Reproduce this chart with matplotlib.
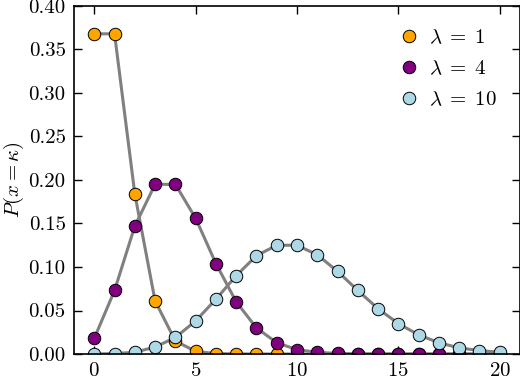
import matplotlib
matplotlib.use("Agg")
import matplotlib.pyplot as plt

plt.rcParams['font.family'] = 'serif'
plt.rcParams['font.serif'] = ['cmr10']
plt.rcParams['mathtext.fontset'] = 'cm'
plt.rcParams['axes.formatter.use_mathtext'] = True

k = list(range(21))

# P(x = k)
p_lam1 = [0.368, 0.368, 0.184, 0.061, 0.015, 0.003, 0.0005, 0.0001, 0.0, 0.0,
          0.0, 0.0, 0.0, 0.0, 0.0, 0.0, 0.0, 0.0, 0.0, 0.0, 0.0]
p_lam4 = [0.018, 0.073, 0.147, 0.195, 0.195, 0.156, 0.104, 0.060, 0.030, 0.013,
          0.005, 0.002, 0.0006, 0.0002, 0.0001, 0.0, 0.0, 0.0, 0.0, 0.0, 0.0]
p_lam10 = [0.0, 0.0005, 0.002, 0.008, 0.019, 0.038, 0.063, 0.090, 0.113, 0.125,
           0.125, 0.114, 0.095, 0.073, 0.052, 0.035, 0.022, 0.013, 0.007, 0.004, 0.002]

series = [(p_lam1, 'orange', r'$\lambda\;=\;1$'),
          (p_lam4, 'purple', r'$\lambda\;=\;4$'),
          (p_lam10, 'lightblue', r'$\lambda\;=\;10$')]

fig = plt.figure(figsize=(5.2, 3.88), dpi=100)
ax = fig.add_axes([0.1423, 0.0876, 0.8577, 0.897])

for p, color, label in series:
    ax.plot(k, p, '-', color='grey', lw=2.2, zorder=1)
    ax.plot(k, p, 'o', color=color, mec='black', mew=0.7, ms=9,
            label=label, zorder=2)

ax.set_xlim(-1, 21)
ax.set_ylim(0, 0.4)
ax.set_xticks([0, 5, 10, 15, 20])
ax.set_yticks([0.0, 0.05, 0.1, 0.15, 0.2, 0.25, 0.3, 0.35, 0.4])
ax.set_yticklabels(['0.00', '0.05', '0.10', '0.15', '0.20', '0.25', '0.30', '0.35', '0.40'])
ax.tick_params(direction='in', top=True, right=True, length=5.5, width=1,
               labelsize=15, pad=6)
for s in ax.spines.values():
    s.set_linewidth(1.2)
ax.set_ylabel(r'$P(x=\kappa)$', fontsize=15, labelpad=2)
ax.legend(loc='upper right', frameon=False, fontsize=15, handlelength=1.2,
          handletextpad=0.36, borderaxespad=0.6, labelspacing=0.6, borderpad=0.5)

fig.savefig('out.png', dpi=100)
